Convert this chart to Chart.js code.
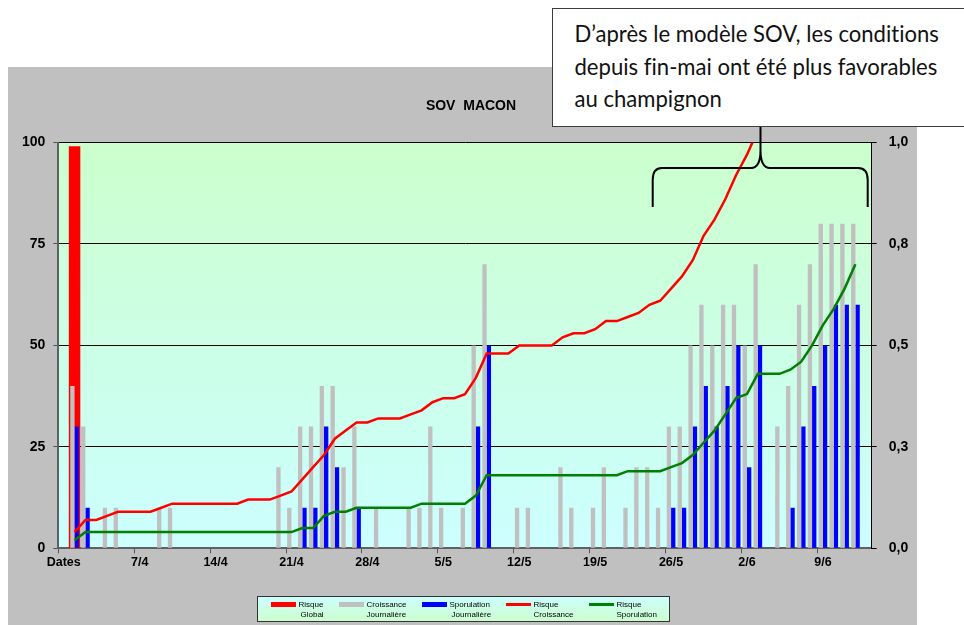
<!DOCTYPE html>
<html>
<head>
<meta charset="utf-8">
<script src="https://cdn.jsdelivr.net/npm/chart.js@4.4.0/dist/chart.umd.min.js"></script>
<style>
  html, body { margin: 0; padding: 0; background: #fff; }
  #wrap { position: relative; width: 964px; height: 625px; }
  #note {
    position: absolute; left: 552px; top: 8px; width: 407px; height: 117px;
    background: #fff; border: 1.5px solid #3c3c3c;
    font-family: Lato, sans-serif; color: #111; line-height: 32.5px;
    font-variant-ligatures: none; font-kerning: normal;
    box-sizing: content-box; padding-left: 21.5px; white-space: nowrap;
  }
</style>
</head>
<body>
<div id="wrap">
  <canvas id="sovChart" width="964" height="625"></canvas>
  <div id="note"></div>
</div>
<script>
// one category per day, 31/3 is shown as "Dates"
var categories = ['Dates',
  '1/4','2/4','3/4','4/4','5/4','6/4','7/4','8/4','9/4','10/4','11/4','12/4','13/4','14/4','15/4',
  '16/4','17/4','18/4','19/4','20/4','21/4','22/4','23/4','24/4','25/4','26/4','27/4','28/4','29/4','30/4',
  '1/5','2/5','3/5','4/5','5/5','6/5','7/5','8/5','9/5','10/5','11/5','12/5','13/5','14/5','15/5','16/5',
  '17/5','18/5','19/5','20/5','21/5','22/5','23/5','24/5','25/5','26/5','27/5','28/5','29/5','30/5','31/5',
  '1/6','2/6','3/6','4/6','5/6','6/6','7/6','8/6','9/6','10/6','11/6','12/6','13/6'];

var risqueGlobal = [null, 99];

var croissance = [null, 40, 30, 0, 10, 10, 0, 0, 0, 10, 10, 0, 0, 0, 0, 0, 0, 0, 0, 0,
  20, 10, 30, 30, 40, 40, 20, 30, 0, 10, 0, 0, 10, 10, 30, 10, 0, 10, 50, 70,
  0, 0, 10, 10, 0, 0, 20, 10, 0, 10, 20, 0, 10, 20, 20, 10, 30, 30, 50, 60,
  50, 60, 60, 50, 70, 0, 30, 40, 60, 70, 80, 80, 80, 80, null];

var sporulation = [null, 30, 10, 0, 0, 0, 0, 0, 0, 0, 0, 0, 0, 0, 0, 0, 0, 0, 0, 0,
  0, 0, 10, 10, 30, 20, 0, 10, 0, 0, 0, 0, 0, 0, 0, 0, 0, 0, 30, 50,
  0, 0, 0, 0, 0, 0, 0, 0, 0, 0, 0, 0, 0, 0, 0, 0, 10, 10, 30, 40,
  30, 40, 50, 20, 50, 0, 0, 10, 30, 40, 50, 60, 60, 60, null];

var risqueCroissance = [null, 0.04, 0.07, 0.07, 0.08, 0.09, 0.09, 0.09, 0.09, 0.10, 0.11,
  0.11, 0.11, 0.11, 0.11, 0.11, 0.11, 0.12, 0.12, 0.12, 0.13, 0.14, 0.17, 0.20, 0.23,
  0.27, 0.29, 0.31, 0.31, 0.32, 0.32, 0.32, 0.33, 0.34, 0.36, 0.37, 0.37, 0.38, 0.42,
  0.48, 0.48, 0.48, 0.50, 0.50, 0.50, 0.50, 0.52, 0.53, 0.53, 0.54, 0.56, 0.56, 0.57,
  0.58, 0.60, 0.61, 0.64, 0.67, 0.71, 0.77, 0.81, 0.86, 0.92, 0.97, 1.03];

var risqueSporulation = [null, 0.02, 0.04, 0.04, 0.04, 0.04, 0.04, 0.04, 0.04, 0.04, 0.04,
  0.04, 0.04, 0.04, 0.04, 0.04, 0.04, 0.04, 0.04, 0.04, 0.04, 0.04, 0.05, 0.05, 0.08,
  0.09, 0.09, 0.10, 0.10, 0.10, 0.10, 0.10, 0.10, 0.11, 0.11, 0.11, 0.11, 0.11, 0.13,
  0.18, 0.18, 0.18, 0.18, 0.18, 0.18, 0.18, 0.18, 0.18, 0.18, 0.18, 0.18, 0.18, 0.19,
  0.19, 0.19, 0.19, 0.20, 0.21, 0.23, 0.26, 0.29, 0.33, 0.37, 0.38, 0.43, 0.43, 0.43,
  0.44, 0.46, 0.50, 0.55, 0.59, 0.64, 0.70, null];

var legendLabels = [['Risque', 'Global'], ['Croissance', 'Journalière'], ['Sporulation', 'Journalière'],
  ['Risque', 'Croissance'], ['Risque', 'Sporulation']];

var noteLines = ['D\u2019après le modèle SOV, les conditions', 'depuis fin-mai ont été plus favorables', 'au champignon'];

var FONT = '"Liberation Sans", Arial, sans-serif';

// note box: html text, sized so the first line is ~365px wide
(function() {
  var note = document.getElementById('note');
  var m = document.createElement('canvas').getContext('2d');
  m.font = '24px Lato';
  var size = 24 * 365 / m.measureText(noteLines[0]).width;
  // first baseline at y=43.5 (Lato ascent .987, content 1.2em)
  var base = (32.5 - 1.2 * size) / 2 + 0.987 * size;
  note.style.fontSize = size.toFixed(2) + 'px';
  note.style.paddingTop = (43.5 - 8 - 1.5 - base).toFixed(2) + 'px';
  note.style.height = (117 - (43.5 - 8 - 1.5 - base)).toFixed(2) + 'px';
  note.innerHTML = noteLines.join('<br>');
})();

// background, title, legend and brace
var decor = {
  id: 'decor',
  beforeDraw: function(chart) {
    var ctx = chart.ctx, a = chart.chartArea;
    ctx.save();
    ctx.fillStyle = '#ffffff';
    ctx.fillRect(0, 0, chart.width, chart.height);
    ctx.fillStyle = '#c0c0c0';
    ctx.fillRect(8, 67, 909, 558);
    var g = ctx.createLinearGradient(0, a.top, 0, a.bottom);
    g.addColorStop(0, '#ccffcc');
    g.addColorStop(1, '#ccffff');
    ctx.fillStyle = g;
    ctx.fillRect(a.left, a.top, a.right - a.left, a.bottom - a.top);
    ctx.restore();
  },
  afterDraw: function(chart) {
    var ctx = chart.ctx;
    ctx.save();
    // title
    ctx.fillStyle = '#000';
    ctx.font = 'bold 14px ' + FONT;
    ctx.textAlign = 'center';
    ctx.textBaseline = 'middle';
    ctx.fillText('SOV  MACON', 471, 106);

    // legend
    var lg = ctx.createLinearGradient(0, 596, 0, 622);
    lg.addColorStop(0, '#ccffff');
    lg.addColorStop(1, '#ccffcc');
    ctx.fillStyle = lg;
    ctx.fillRect(257, 596, 412, 26);
    ctx.strokeStyle = '#333';
    ctx.lineWidth = 1;
    ctx.strokeRect(257.5, 596.5, 412, 25);
    var sx = [271, 339, 422, 506, 589];
    var shift2 = [2, 0, 2, 0, 0];
    ctx.font = '8px ' + FONT;
    ctx.textAlign = 'left';
    chart.data.datasets.forEach(function(ds, i) {
      if (ds.type === 'bar') {
        ctx.fillStyle = ds.backgroundColor;
        ctx.fillRect(sx[i], 602, 25, 5);
      } else {
        ctx.strokeStyle = ds.borderColor;
        ctx.lineWidth = 3;
        ctx.beginPath();
        ctx.moveTo(sx[i], 604.5);
        ctx.lineTo(sx[i] + 25, 604.5);
        ctx.stroke();
      }
      ctx.fillStyle = '#000';
      ctx.fillText(legendLabels[i][0], sx[i] + 27.5, 604.5);
      ctx.fillText(legendLabels[i][1], sx[i] + 27.5 + shift2[i], 614.5);
    });

    // brace under the note
    ctx.strokeStyle = '#000';
    ctx.lineWidth = 2;
    ctx.beginPath();
    ctx.moveTo(652.7, 207);
    ctx.lineTo(652.7, 180);
    ctx.quadraticCurveTo(652.7, 168, 662, 168);
    ctx.lineTo(751, 168);
    ctx.quadraticCurveTo(760.5, 168, 760.5, 150);
    ctx.lineTo(760.5, 126);
    ctx.moveTo(760.5, 150);
    ctx.quadraticCurveTo(760.5, 168, 770, 168);
    ctx.lineTo(858, 168);
    ctx.quadraticCurveTo(867.7, 168, 867.7, 180);
    ctx.lineTo(867.7, 207);
    ctx.stroke();
    ctx.restore();
  }
};

var axisFont = { family: FONT, size: 14, weight: 'bold' };

new Chart(document.getElementById('sovChart'), {
  type: 'bar',
  data: {
    labels: categories,
    datasets: [{
      type: 'bar', label: 'Risque Global', data: risqueGlobal,
      backgroundColor: '#ff0000', grouped: false,
      barPercentage: 1, categoryPercentage: 1, yAxisID: 'y', order: 4
    }, {
      type: 'bar', label: 'Croissance Journalière', data: croissance,
      backgroundColor: '#c0c0c0', categoryPercentage: 0.8, barPercentage: 1,
      yAxisID: 'y', order: 2
    }, {
      type: 'bar', label: 'Sporulation Journalière', data: sporulation,
      backgroundColor: '#0000ff', categoryPercentage: 0.8, barPercentage: 1,
      yAxisID: 'y', order: 3
    }, {
      type: 'line', label: 'Risque Croissance', data: risqueCroissance,
      borderColor: '#ff0000', borderWidth: 2.5, pointRadius: 0, tension: 0,
      yAxisID: 'y1', order: 1
    }, {
      type: 'line', label: 'Risque Sporulation', data: risqueSporulation,
      borderColor: '#008000', borderWidth: 2.5, pointRadius: 0, tension: 0,
      yAxisID: 'y1', order: 0
    }]
  },
  options: {
    responsive: false,
    animation: false,
    layout: { padding: { top: 142.5, left: 0, right: 42.3, bottom: 46.7 } },
    plugins: { legend: { display: false }, tooltip: { enabled: false } },
    scales: {
      x: {
        offset: true,
        grid: {
          offset: true, drawOnChartArea: false, tickLength: 5,
          color: function(c) { return c.index % 7 === 0 ? '#555' : 'rgba(0,0,0,0)'; }
        },
        border: { color: '#606060', width: 2 },
        ticks: {
          autoSkip: false, maxRotation: 0, padding: 2, color: '#000',
          font: { family: FONT, size: 12.5, weight: 'bold' },
          callback: function(v, i) { return i % 7 === 0 ? this.getLabelForValue(v) : ''; }
        },
        afterFit: function(s) { s.height = 30; }
      },
      y: {
        position: 'left', min: 0, max: 100,
        ticks: { stepSize: 25, padding: 8, color: '#000', font: axisFont },
        grid: {
          tickLength: 5, tickColor: '#555', lineWidth: 1,
          color: function(c) { return c.tick && c.tick.value === 0 ? 'rgba(0,0,0,0)' : '#000'; }
        },
        border: { color: '#606060', width: 2 },
        afterFit: function(s) { s.width = 58.3; }
      },
      y1: {
        position: 'right', min: 0, max: 1,
        ticks: {
          stepSize: 0.25, padding: 12, color: '#000', font: axisFont,
          callback: function(v) { return v.toFixed(1).replace('.', ','); }
        },
        grid: { drawOnChartArea: false, tickLength: 5, tickColor: '#000' },
        border: { color: '#000', width: 1 },
        afterFit: function(s) { s.width = 50; }
      }
    }
  },
  plugins: [decor]
});
</script>
</body>
</html>
